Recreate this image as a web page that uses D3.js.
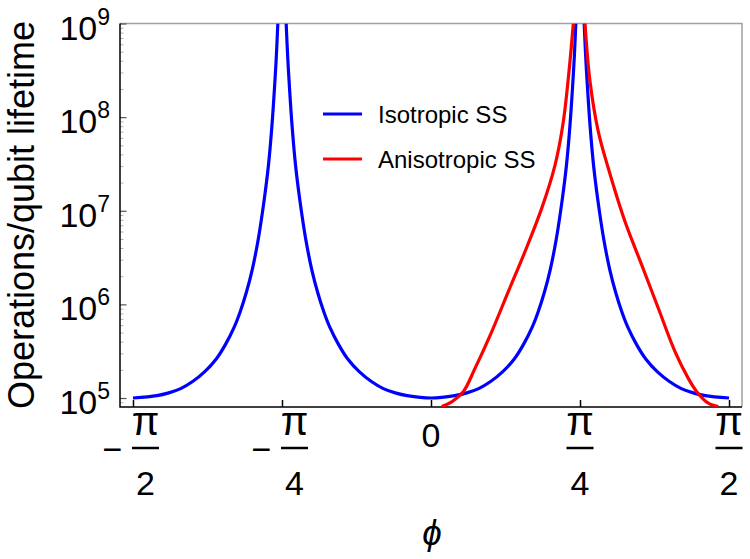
<!DOCTYPE html>
<html>
<head>
<meta charset="utf-8">
<script src="https://cdn.jsdelivr.net/npm/d3@7/dist/d3.min.js"></script>
<style>
    body { margin: 0; background: #fff; }
    svg { display: block; font-family: "Liberation Sans", Arial, sans-serif; }
</style>
</head>
<body>
<div id="chart"></div>
<script>
// phi in Vielfachen von pi, null = Singularitaet (Kurve unterbrochen)
const isoPhi = [
    -0.5, -0.46, -0.44, -0.42, -0.40, -0.38, -0.36, -0.345, -0.33, -0.32, -0.31, -0.30, -0.29, -0.28, -0.2725, -0.267, -0.2625, -0.2595, -0.257,
    -0.25,
    -0.243, -0.2405, -0.2375, -0.233, -0.2275, -0.22, -0.21, -0.20, -0.19, -0.18, -0.17, -0.155, -0.14, -0.12, -0.10, -0.08, -0.06, -0.04,
    0,
    0.04, 0.06, 0.08, 0.10, 0.12, 0.14, 0.155, 0.17, 0.18, 0.19, 0.20, 0.21, 0.22, 0.2275, 0.233, 0.2375, 0.2405, 0.243,
    0.25,
    0.257, 0.2595, 0.2625, 0.267, 0.2725, 0.28, 0.29, 0.30, 0.31, 0.32, 0.33, 0.345, 0.36, 0.38, 0.40, 0.42, 0.44, 0.46, 0.5];
const isoVal = [
    1.0e5, 1.06e5, 1.135e5, 1.26e5, 1.5e5, 1.9e5, 2.63e5, 3.72e5, 5.75e5, 8.4e5, 1.33e6, 2.34e6, 4.9e6, 1.29e7, 3.16e7, 7.9e7, 2.09e8, 4.47e8, 1e9,
    null,
    1e9, 4.47e8, 2.09e8, 7.9e7, 3.16e7, 1.29e7, 4.9e6, 2.34e6, 1.33e6, 8.4e5, 5.75e5, 3.72e5, 2.63e5, 1.9e5, 1.5e5, 1.26e5, 1.135e5, 1.06e5,
    1.0e5,
    1.06e5, 1.135e5, 1.26e5, 1.5e5, 1.9e5, 2.63e5, 3.72e5, 5.75e5, 8.4e5, 1.33e6, 2.34e6, 4.9e6, 1.29e7, 3.16e7, 7.9e7, 2.09e8, 4.47e8, 1e9,
    null,
    1e9, 4.47e8, 2.09e8, 7.9e7, 3.16e7, 1.29e7, 4.9e6, 2.34e6, 1.33e6, 8.4e5, 5.75e5, 3.72e5, 2.63e5, 1.9e5, 1.5e5, 1.26e5, 1.135e5, 1.06e5, 1.0e5];

const anisoPhi = [0.018, 0.0347, 0.0542, 0.0738, 0.1018, 0.1297, 0.1577, 0.1857, 0.2081, 0.222, 0.2315, 0.2388,
    0.25,
    0.2584, 0.2668, 0.2807, 0.2975, 0.3255, 0.3535, 0.3814, 0.4094, 0.4317, 0.4458, 0.4653, 0.482];
const anisoVal = [8.1e4, 9.1e4, 1.17e5, 2.07e5, 5.1e5, 1.37e6, 3.66e6, 1.06e7, 3.08e7, 8.95e7, 3.06e8, 1e9,
    null,
    1e9, 2.4e8, 7.0e7, 2.84e7, 7.66e6, 2.64e6, 9.1e5, 3.13e5, 1.62e5, 1.17e5, 8.8e4, 8.1e4];

const yMajor = [1e5, 1e6, 1e7, 1e8, 1e9];
const yExp = ["5", "6", "7", "8", "9"];
const xTicks = [-0.5, -0.25, 0, 0.25, 0.5];
const xNum = ["π", "π", "0", "π", "π"];
const xDen = ["2", "4", null, "4", "2"];
const xNeg = [true, true, false, false, false];
const seriesNames = ["Isotropic SS", "Anisotropic SS"];
const seriesColors = ["#0000ff", "#ff0000"];

const width = 750, height = 559;
const plotLeft = 120, plotRight = 742, plotTop = 23.5, plotBottom = 407;

const svg = d3.select("#chart")
    .append("svg")
    .attr("width", width)
    .attr("height", height);

// Skalen
const x = d3.scaleLinear()
    .domain([-0.5218, 0.5218])
    .range([plotLeft, plotRight]);

const y = d3.scaleLog()
    .domain([Math.pow(10, 4.904), 1e9])
    .range([plotBottom, plotTop]);

// Clip
svg.append("defs").append("clipPath")
    .attr("id", "plotclip")
    .append("rect")
    .attr("x", plotLeft)
    .attr("y", plotTop)
    .attr("width", plotRight - plotLeft)
    .attr("height", plotBottom - plotTop);

// Rahmen oben/rechts grau
svg.append("path")
    .attr("d", `M${plotLeft},${plotTop}H${plotRight}V${plotBottom}`)
    .attr("fill", "none")
    .attr("stroke", "#a0a0a0")
    .attr("stroke-width", 1.5);

// Minor ticks y
const minor = y.ticks().filter(v => !yMajor.includes(v));
svg.append("g")
    .attr("transform", `translate(${plotLeft},0)`)
    .call(d3.axisLeft(y).tickValues(minor).tickSize(-3.5).tickFormat(""))
    .call(g => g.select(".domain").remove())
    .call(g => g.selectAll("line").attr("stroke", "#b0b0b0"));

// Major ticks y
svg.append("g")
    .attr("transform", `translate(${plotLeft},0)`)
    .call(d3.axisLeft(y).tickValues(yMajor).tickSize(-6.5).tickFormat(""))
    .call(g => g.select(".domain").remove())
    .call(g => g.selectAll("line").attr("stroke", "#555").attr("stroke-width", 1.2));

// Ticks x
svg.append("g")
    .attr("transform", `translate(0,${plotBottom})`)
    .call(d3.axisBottom(x).tickValues(xTicks).tickSize(-7).tickFormat(""))
    .call(g => g.select(".domain").remove())
    .call(g => g.selectAll("line").attr("stroke", "#000").attr("stroke-width", 1.5));

// Achsenlinien
svg.append("path")
    .attr("d", `M${plotLeft},${plotTop}V${plotBottom}H${plotRight}`)
    .attr("fill", "none")
    .attr("stroke", "#000")
    .attr("stroke-width", 1.5);

// Kurven
const line = d3.line()
    .defined(d => d.v !== null)
    .x(d => x(d.p))
    .y(d => y(d.v))
    .curve(d3.curveCatmullRom.alpha(0.5));

const series = [
    isoPhi.map((p, i) => ({ p, v: isoVal[i] })),
    anisoPhi.map((p, i) => ({ p, v: anisoVal[i] }))
];

svg.append("g")
    .attr("clip-path", "url(#plotclip)")
    .selectAll("path")
    .data(series)
    .enter()
    .append("path")
    .attr("d", line)
    .attr("fill", "none")
    .attr("stroke", (d, i) => seriesColors[i])
    .attr("stroke-width", 3.2);

// y Beschriftung
const yLab = svg.append("g")
    .selectAll("text")
    .data(yMajor)
    .enter()
    .append("text")
    .attr("x", 110)
    .attr("y", d => y(d) + 16)
    .attr("text-anchor", "end")
    .style("font-size", "34px");
yLab.append("tspan").text("10");
yLab.append("tspan")
    .attr("dy", -15)
    .style("font-size", "23px")
    .text((d, i) => yExp[i]);

// x Beschriftung (Brueche)
const xLab = svg.append("g")
    .selectAll("g")
    .data(xTicks)
    .enter()
    .append("g")
    .attr("transform", d => `translate(${x(d)},0)`);

xLab.each(function (d, i) {
    const g = d3.select(this);
    if (xDen[i] === null) {
        g.append("text")
            .attr("x", 0)
            .attr("y", 447)
            .attr("text-anchor", "middle")
            .style("font-size", "34px")
            .text(xNum[i]);
        return;
    }
    const cx = xNeg[i] ? 12.5 : 0;
    if (xNeg[i]) {
        g.append("text")
            .attr("x", -20.5)
            .attr("y", 461)
            .attr("text-anchor", "middle")
            .style("font-size", "34px")
            .text("\u2212");
    }
    g.append("text")
        .attr("x", cx)
        .attr("y", 435)
        .attr("text-anchor", "middle")
        .style("font-size", "40px")
        .text(xNum[i]);
    g.append("line")
        .attr("x1", cx - 13.5)
        .attr("x2", cx + 13.5)
        .attr("y1", 448)
        .attr("y2", 448)
        .attr("stroke", "#000")
        .attr("stroke-width", 2.5);
    g.append("text")
        .attr("x", cx)
        .attr("y", 495)
        .attr("text-anchor", "middle")
        .style("font-size", "34px")
        .text(xDen[i]);
});

// Achsentitel
svg.append("text")
    .attr("x", 432)
    .attr("y", 545)
    .attr("text-anchor", "middle")
    .style("font-size", "35px")
    .style("font-style", "italic")
    .text("ϕ");

svg.append("text")
    .attr("transform", "translate(34,215) rotate(-90)")
    .attr("text-anchor", "middle")
    .style("font-size", "36px")
    .text("Operations/qubit lifetime");

// Legende
const legend = svg.append("g")
    .selectAll("g")
    .data(seriesNames)
    .enter()
    .append("g")
    .attr("transform", (d, i) => `translate(0,${114 + i * 45})`);

legend.append("line")
    .attr("x1", 323)
    .attr("x2", 362)
    .attr("stroke", (d, i) => seriesColors[i])
    .attr("stroke-width", 3);

legend.append("text")
    .attr("x", 378)
    .attr("y", 9)
    .style("font-size", "24px")
    .text(d => d);
</script>
</body>
</html>
